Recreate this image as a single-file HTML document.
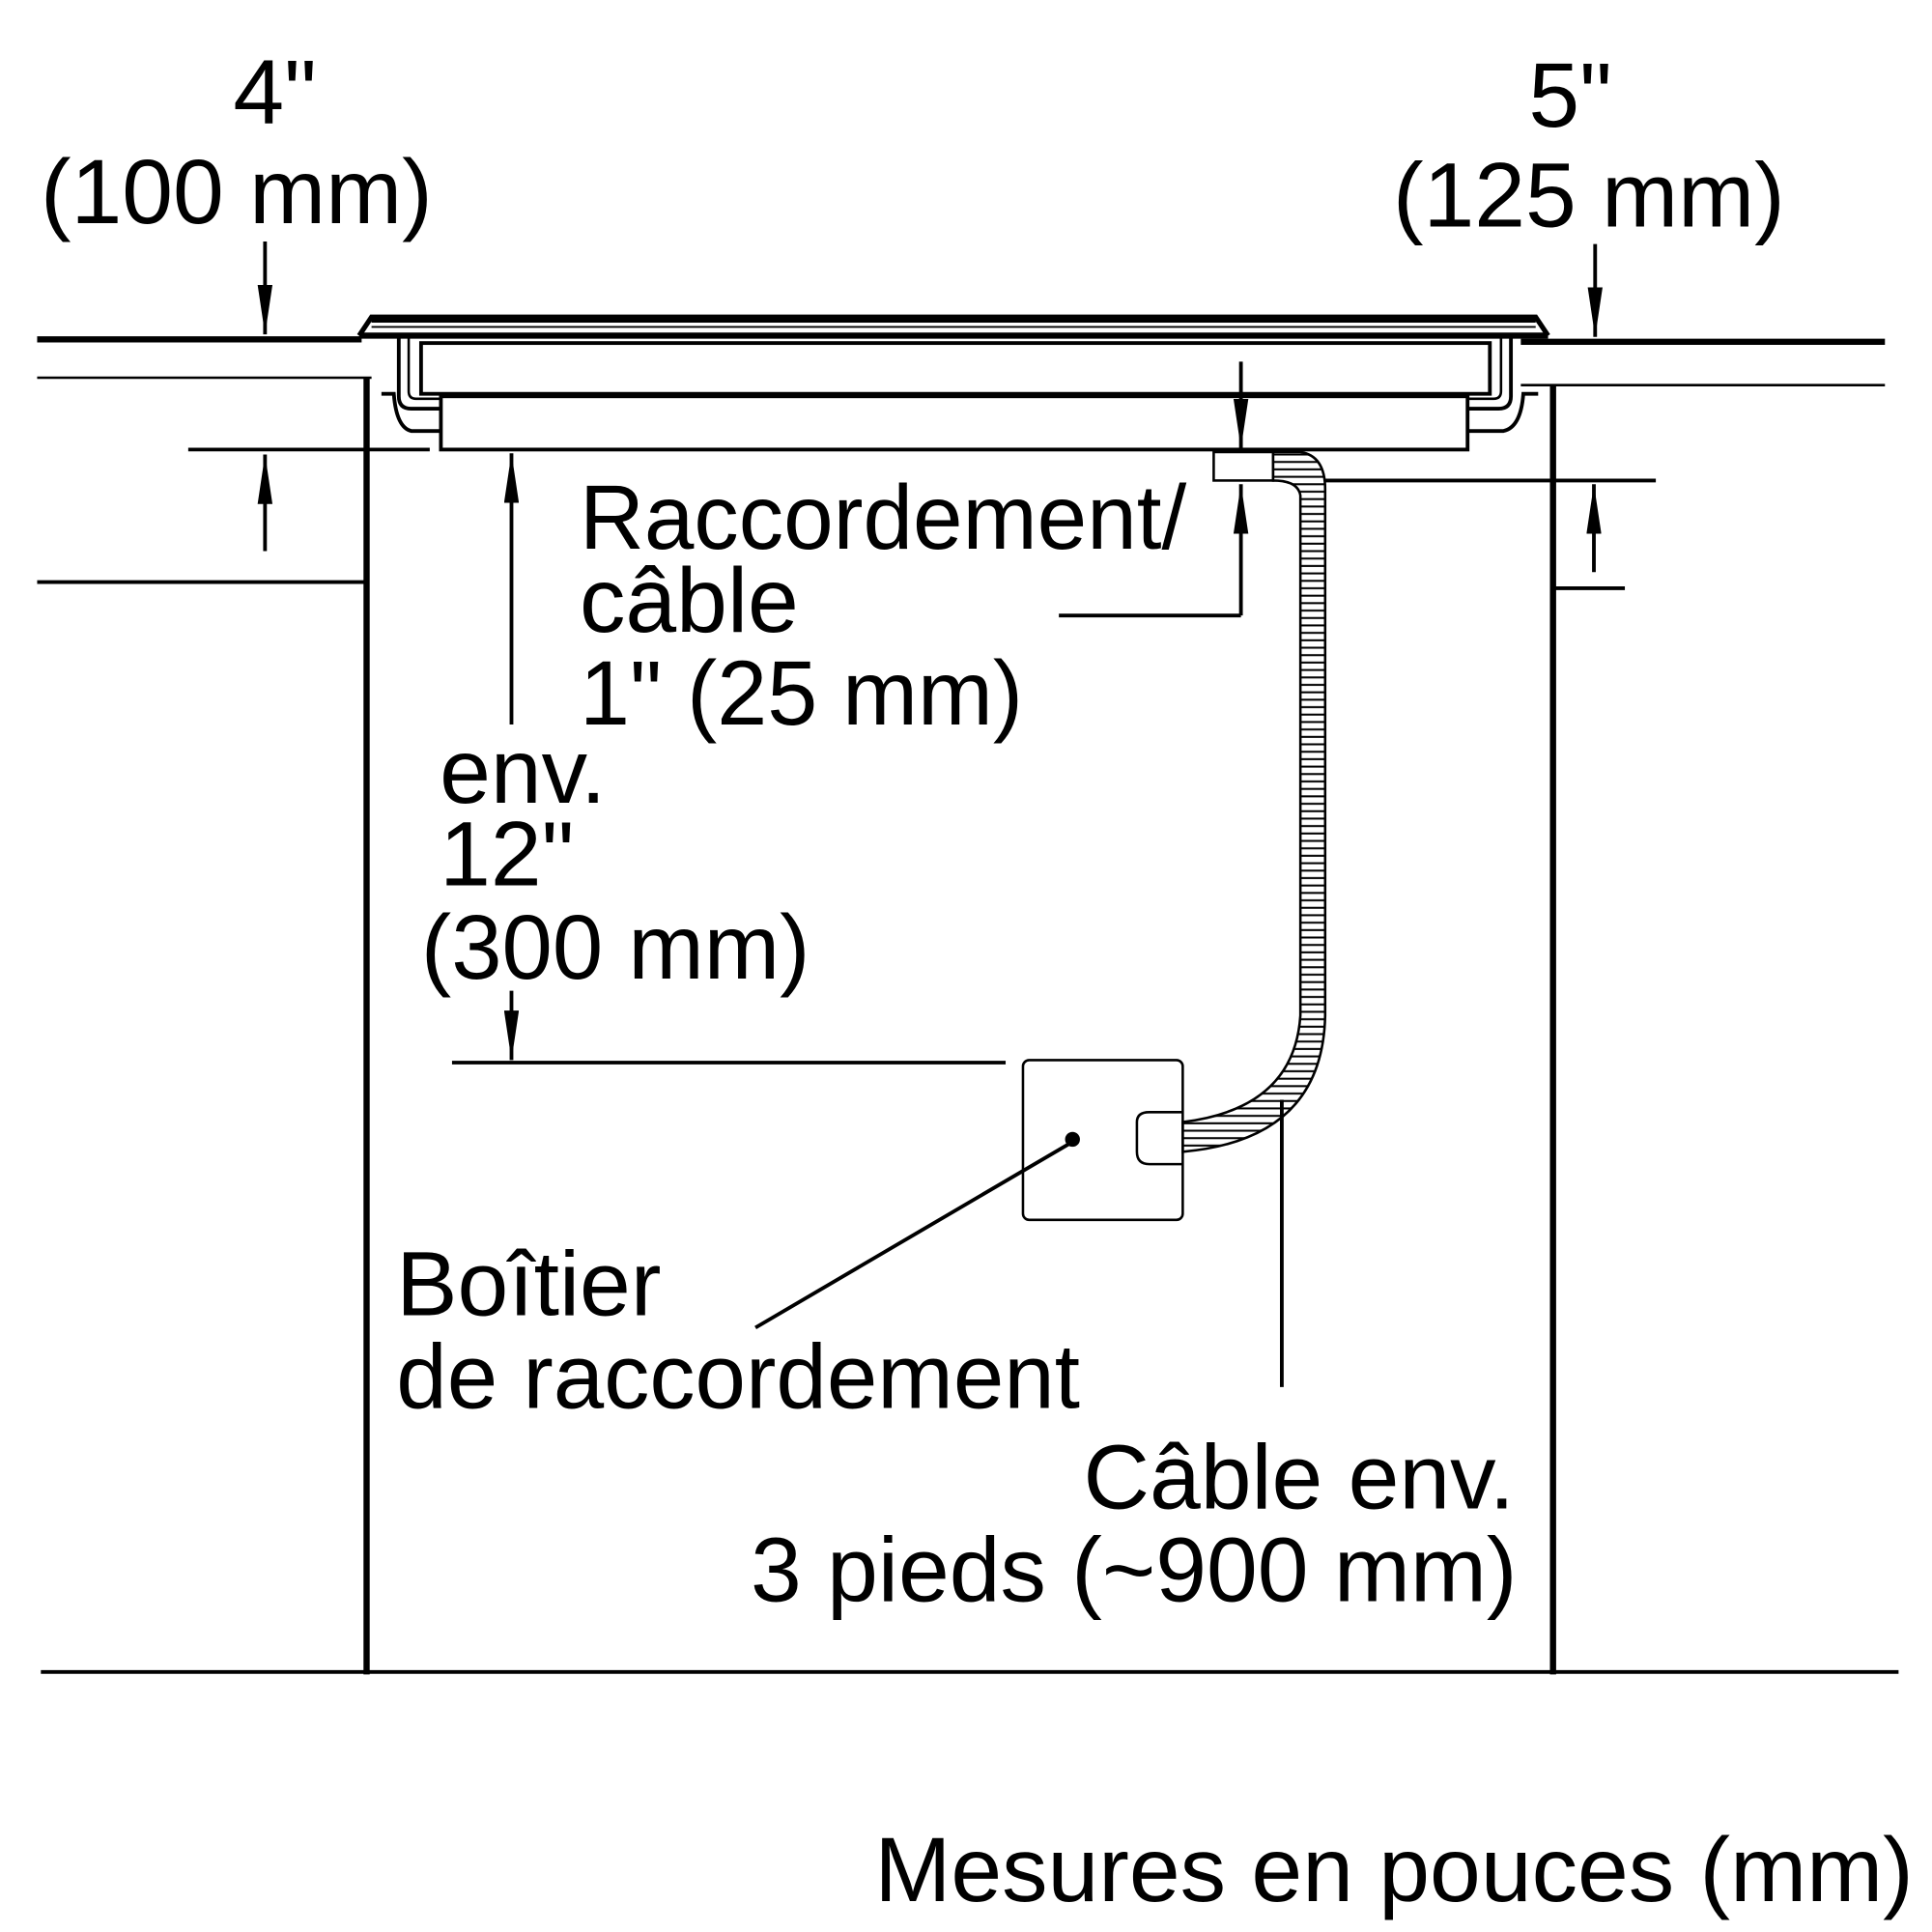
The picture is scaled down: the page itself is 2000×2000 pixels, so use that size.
<!DOCTYPE html>
<html><head><meta charset="utf-8"><style>html,body{margin:0;padding:0;background:#fff}svg{display:block}</style></head>
<body>
<svg width="2000" height="2000" viewBox="0 0 1560 1560" xmlns="http://www.w3.org/2000/svg">
<defs>
<marker id="ah" markerWidth="40" markerHeight="12" refX="40" refY="6" orient="auto" markerUnits="userSpaceOnUse" viewBox="0 0 40 12">
<path d="M0,0 L40,6 L0,12 Z" fill="#000"/></marker>
<pattern id="hatch" width="6" height="6" patternUnits="userSpaceOnUse"><rect width="6" height="6" fill="#fff"/><line x1="0" y1="1" x2="6" y2="1" stroke="#000" stroke-width="1.6"/></pattern>
</defs>
<g stroke="#000" fill="none" stroke-linecap="butt">
<line x1="30" y1="274" x2="292" y2="274" stroke-width="5"/>
<line x1="30" y1="305" x2="300" y2="305" stroke-width="2"/>
<line x1="296" y1="305" x2="296" y2="1352" stroke-width="5"/>
<line x1="30" y1="470" x2="296" y2="470" stroke-width="3"/>
<line x1="1228" y1="276" x2="1522" y2="276" stroke-width="5"/>
<line x1="1228" y1="311" x2="1522" y2="311" stroke-width="2"/>
<line x1="1254" y1="311" x2="1254" y2="1352" stroke-width="5"/>
<line x1="1254" y1="475" x2="1312" y2="475" stroke-width="3"/>
<line x1="1050" y1="388" x2="1337" y2="388" stroke-width="3"/>
<line x1="33" y1="1350" x2="1533" y2="1350" stroke-width="3"/>
<path d="M290,271 L300,256 L1240,256 L1250,271" stroke-width="4"/>
<line x1="300" y1="258" x2="1240" y2="258" stroke-width="5"/>
<line x1="290" y1="271" x2="1250" y2="271" stroke-width="5"/>
<line x1="300" y1="264" x2="1240" y2="264" stroke-width="1.5"/>
<rect x="340" y="277" width="863" height="41" stroke-width="3"/>
<rect x="356" y="320" width="829" height="43" stroke-width="3"/>
<path d="M322,273 L322,320 Q322,330 332,330 L356,330" stroke-width="3"/>
<path d="M330,273 L330,316 Q330,322 336,322 L356,322" stroke-width="2"/>
<path d="M308,318 L318,318 Q320,345 332,348 L356,348" stroke-width="3"/>
<path d="M1220,273 L1220,320 Q1220,330 1210,330 L1185,330" stroke-width="3"/>
<path d="M1212,273 L1212,316 Q1212,322 1206,322 L1185,322" stroke-width="2"/>
<path d="M1242,318 L1230,318 Q1228,345 1214,348 L1185,348" stroke-width="3"/>
<line x1="214" y1="195" x2="214" y2="270" stroke-width="3" marker-end="url(#ah)"/>
<line x1="152" y1="363" x2="347" y2="363" stroke-width="3"/>
<line x1="214" y1="445" x2="214" y2="367" stroke-width="3" marker-end="url(#ah)"/>
<line x1="1288" y1="197" x2="1288" y2="272" stroke-width="3" marker-end="url(#ah)"/>
<line x1="1287" y1="462" x2="1287" y2="391" stroke-width="3" marker-end="url(#ah)"/>
<line x1="413" y1="585" x2="413" y2="366" stroke-width="3" marker-end="url(#ah)"/>
<line x1="413" y1="800" x2="413" y2="856" stroke-width="3" marker-end="url(#ah)"/>
<line x1="365" y1="858" x2="812" y2="858" stroke-width="3"/>
<line x1="1002" y1="292" x2="1002" y2="362" stroke-width="3" marker-end="url(#ah)"/>
<rect x="980" y="365" width="48" height="23" stroke-width="2"/>
<line x1="1002" y1="497" x2="1002" y2="391" stroke-width="3" marker-end="url(#ah)"/>
<line x1="855" y1="497" x2="1002" y2="497" stroke-width="3"/>
<path d="M1028,365 L1050,365 Q1070,368 1070,395 L1070,820 Q1068,920 955,930 L955,906 Q1045,895 1050,820 L1050,400 Q1048,388 1028,388 Z" fill="url(#hatch)" stroke-width="2"/>
<rect x="826" y="856" width="129" height="129" rx="5" stroke-width="2"/>
<path d="M955,898 L928,898 Q918,898 918,906 L918,930 Q918,940 928,940 L955,940" stroke-width="2"/>
<line x1="866" y1="922" x2="610" y2="1072" stroke-width="3"/>
<line x1="1035" y1="888" x2="1035" y2="1120" stroke-width="3"/>
</g>
<circle cx="866" cy="920" r="6" fill="#000"/>
<g font-family="'Liberation Sans', sans-serif" font-size="74" fill="#000">
<text x="222" y="100" text-anchor="middle">4"</text>
<text x="191" y="180" text-anchor="middle">(100 mm)</text>
<text x="1268" y="102" text-anchor="middle">5"</text>
<text x="1283" y="183" text-anchor="middle">(125 mm)</text>
<text x="468" y="443" textLength="490" lengthAdjust="spacingAndGlyphs">Raccordement/</text>
<text x="468" y="510">câble</text>
<text x="468" y="585" textLength="358" lengthAdjust="spacingAndGlyphs">1" (25 mm)</text>
<text x="355" y="648">env.</text>
<text x="355" y="715">12"</text>
<text x="340" y="790" textLength="314" lengthAdjust="spacingAndGlyphs">(300 mm)</text>
<text x="320" y="1062">Boîtier</text>
<text x="320" y="1137" textLength="552" lengthAdjust="spacingAndGlyphs">de raccordement</text>
<text x="1223" y="1218" text-anchor="end">Câble env.</text>
<text x="1225" y="1293" text-anchor="end">3 pieds (~900 mm)</text>
<text x="1545" y="1535" text-anchor="end">Mesures en pouces (mm)</text>
</g>
</svg>
</body></html>
